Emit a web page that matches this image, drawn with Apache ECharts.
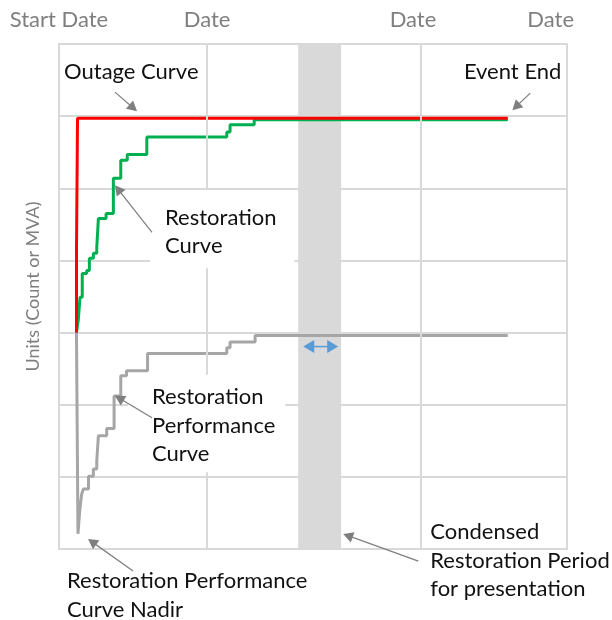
<!DOCTYPE html>
<html>
<head>
<meta charset="utf-8">
<title>Outage and restoration curves</title>
<script src="https://cdn.jsdelivr.net/npm/echarts@6/dist/echarts.min.js"></script>
<style>
    html, body { margin: 0; padding: 0; background: #fff; }
    #chart { width: 612px; height: 620px; }
</style>
</head>
<body>
<div id="chart"></div>
<script>
    // x: days from event start, y: units (count or MVA) against the pre-event level
    var outageX = [0.118, 0.118, 0.125, 3.03];
    var outageY = [0, 1.10, 2.97, 2.97];

    var restorationX = [0.118, 0.130, 0.142, 0.157, 0.187, 0.205, 0.232, 0.255, 0.266, 0.318,
                        0.367, 0.417, 0.461, 0.593, 1.133, 1.155, 1.318, 3.03];
    var restorationY = [0, 0.17, 0.49, 0.82, 0.86, 1.03, 1.10, 1.18, 1.58, 1.65,
                        2.14, 2.39, 2.47, 2.71, 2.78, 2.88, 2.95, 2.95];

    var performanceX = [0.118, 0.128, 0.140, 0.153, 0.164, 0.199, 0.232, 0.255, 0.266, 0.322,
                        0.372, 0.417, 0.456, 0.598, 1.133, 1.155, 1.324, 3.03];
    var performanceY = [0, -2.79, -2.47, -2.24, -2.17, -1.99, -1.89, -1.78, -1.43, -1.33,
                        -0.88, -0.60, -0.53, -0.29, -0.21, -0.13, -0.04, -0.04];

    var dateTicks = [0, 1, 2.39, 3.32];
    var dateTickLabels = ['Start Date', 'Date', 'Date', 'Date'];
    var gridDays = [1, 2.44];
    var condensedFrom = 1.615, condensedTo = 1.905;

    function pairs(xs, ys) {
        var out = [];
        for (var i = 0; i < xs.length; i++) out.push([xs[i], ys[i]]);
        return out;
    }

    var chart = echarts.init(document.getElementById('chart'));
    var font = 'Lato, "Open Sans", sans-serif';
    var gridColor = '#d9d9d9';

    var option = {
        animation: false,
        grid: {
            left: 59, right: 45, top: 44, bottom: 71,
            show: true, borderColor: gridColor, borderWidth: 2, backgroundColor: '#fff'
        },
        xAxis: {
            type: 'value', position: 'top', min: 0, max: 3.43,
            axisLine: {show: false}, axisTick: {show: false}, splitLine: {show: false},
            axisLabel: {
                customValues: dateTicks, margin: 13, color: '#7f7f7f',
                fontFamily: font, fontSize: 22,
                formatter: function (v) { return dateTickLabels[dateTicks.indexOf(v)]; }
            }
        },
        yAxis: {
            type: 'value', min: -3, max: 4, interval: 1,
            axisLine: {show: false}, axisTick: {show: false}, axisLabel: {show: false},
            splitLine: {lineStyle: {color: gridColor, width: 2}},
            name: 'Units (Count or MVA)', nameLocation: 'middle', nameGap: 17, nameRotate: 90,
            nameTextStyle: {color: '#7f7f7f', fontFamily: font, fontSize: 18, padding: [0, 0, 0, 20]}
        },
        series: [
            {
                name: 'grid', type: 'line', data: [], z: 1, silent: true,
                markLine: {
                    silent: true, symbol: 'none', label: {show: false},
                    lineStyle: {color: gridColor, width: 2, type: 'solid'},
                    data: gridDays.map(function (d) { return {xAxis: d}; })
                }
            },
            {
                name: 'Restoration Performance Curve', type: 'line', step: 'end', z: 3,
                showSymbol: false, data: pairs(performanceX, performanceY),
                lineStyle: {color: '#a6a6a6', width: 3}
            },
            {
                name: 'Restoration Curve', type: 'line', step: 'end', z: 3,
                showSymbol: false, data: pairs(restorationX, restorationY),
                lineStyle: {color: '#00b050', width: 3}
            },
            {
                name: 'Outage Curve', type: 'line', step: 'end', z: 4,
                showSymbol: false, data: pairs(outageX, outageY),
                lineStyle: {color: '#ff0000', width: 3}
            },
            {
                name: 'condensed', type: 'line', data: [], z: 6, silent: true,
                markArea: {
                    silent: true,
                    itemStyle: {color: '#d9d9d9', opacity: 1},
                    data: [[{xAxis: condensedFrom}, {xAxis: condensedTo}]]
                }
            }
        ]
    };
    chart.setOption(option);

    // annotations, anchored in data space: text position is left edge / centre of first line
    var notes = [
        {text: 'Outage Curve', at: [0.034, 3.611], align: 'left'},
        {text: 'Event End', at: [3.392, 3.611], align: 'right'},
        {text: 'Restoration\nCurve', at: [0.716, 1.597], align: 'left', pad: [13, 18, 8, 15]},
        {text: 'Restoration\nPerformance\nCurve', at: [0.628, -0.889], align: 'left', pad: [8, 10, 4, 24]},
        {text: 'Restoration Performance\nCurve Nadir', at: [0.054, -3.444], align: 'left'},
        {text: 'Condensed\nRestoration Period\nfor presentation', at: [2.507, -2.764], align: 'left'}
    ];
    var arrows = [
        {from: [0.378, 3.333], to: [0.527, 3.069]},
        {from: [3.182, 3.319], to: [3.061, 3.083]},
        {from: [0.628, 1.389], to: [0.378, 2.042]},
        {from: [0.628, -1.181], to: [0.378, -0.875]},
        {from: [0.500, -3.306], to: [0.196, -2.861]},
        {from: [2.426, -3.167], to: [1.919, -2.792]}
    ];
    var spanArrow = {from: [1.649, -0.194], to: [1.885, -0.194]};

    function px(p) { return chart.convertToPixel({gridIndex: 0}, p); }

    function head(tip, ux, uy, len, half, color) {
        var bx = tip[0] - ux * len, by = tip[1] - uy * len;
        return {
            type: 'polygon', z: 100, silent: true,
            shape: {points: [tip, [bx - uy * half, by + ux * half], [bx + uy * half, by - ux * half]]},
            style: {fill: color}
        };
    }

    function arrow(a, b, color, width, len, half, both) {
        var p0 = px(a), p1 = px(b);
        var dx = p1[0] - p0[0], dy = p1[1] - p0[1];
        var d = Math.sqrt(dx * dx + dy * dy), ux = dx / d, uy = dy / d;
        var s = both ? [p0[0] + ux * len * 0.8, p0[1] + uy * len * 0.8] : p0;
        var e = [p1[0] - ux * len * 0.8, p1[1] - uy * len * 0.8];
        var els = [{
            type: 'line', z: 100, silent: true,
            shape: {x1: s[0], y1: s[1], x2: e[0], y2: e[1]},
            style: {stroke: color, lineWidth: width}
        }, head(p1, ux, uy, len, half, color)];
        if (both) els.push(head(p0, -ux, -uy, len, half, color));
        return els;
    }

    var graphics = [];
    notes.forEach(function (n) {
        var p = px(n.at);
        var pad = n.pad || [0, 0, 0, 0];
        graphics.push({
            type: 'text', z: 90, silent: true,
            x: n.align === 'right' ? p[0] + pad[1] : p[0] - pad[3],
            y: p[1] - 14 - pad[0],
            style: {
                text: n.text, fill: '#111', font: '22px ' + font,
                lineHeight: 28.5, align: n.align, verticalAlign: 'top',
                backgroundColor: n.pad ? '#fff' : null, padding: n.pad || 0
            }
        });
    });
    arrows.forEach(function (a) {
        graphics = graphics.concat(arrow(a.from, a.to, '#7f7f7f', 1.25, 10, 5.5, false));
    });
    graphics = graphics.concat(arrow(spanArrow.from, spanArrow.to, '#5b9bd5', 1.5, 11, 6.5, true));

    chart.setOption({graphic: graphics});
</script>
</body>
</html>
